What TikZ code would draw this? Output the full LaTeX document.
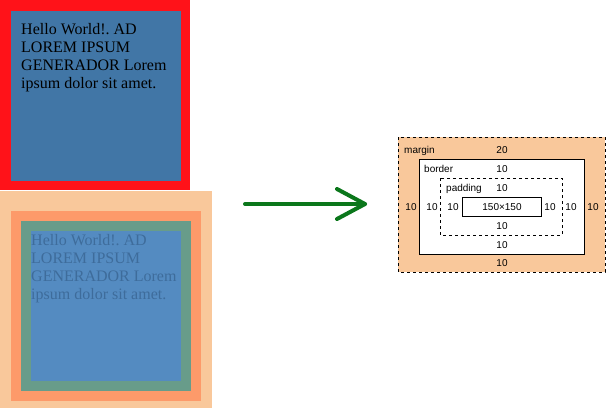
\documentclass[tikz,border=0pt]{standalone}
\usepackage{fontspec}
\usepackage{xcolor}
\setmainfont{Liberation Serif}
\newfontfamily\boxfont{Liberation Sans}
\usetikzlibrary{positioning}
\frenchspacing

\definecolor{boxred}{HTML}{FF1219}
\definecolor{boxblue}{HTML}{4176A6}
\definecolor{peach}{HTML}{F9C89B}
\definecolor{boxorange}{HTML}{FD9A6A}
\definecolor{boxgreen}{HTML}{689C8A}
\definecolor{lightblue}{HTML}{548BC1}
\definecolor{fadetext}{HTML}{3E6C9B}
\definecolor{arrowgreen}{HTML}{0B771B}

\begin{document}
\begin{tikzpicture}[x=1pt, y=-1pt,
    lorem/.style={anchor=north west, align=left, inner sep=0pt,
      font=\fontsize{16}{18}\selectfont},
    lbl/.style={anchor=base, inner sep=0pt, font=\boxfont\fontsize{10}{12}\selectfont},
    lblw/.style={lbl, anchor=base west},
    thinline/.style={draw=black, line width=0.9pt},
    dashbox/.style={thinline, dashed},
    flow/.style={draw=arrowgreen, line width=4pt, line cap=round, line join=round}]
  \useasboundingbox (0,0) rectangle (608,408);

  % top box
  \fill[boxred] (0,0) rectangle (190,190);
  \fill[boxblue] (11,11) rectangle (181,181);
  \node[lorem] (top) at (21,23) {Hello World!. AD\\LOREM IPSUM\\GENERADOR Lorem\\ipsum dolor sit amet.};

  % bottom box, all layers
  \fill[peach] (0,191) rectangle (212,408);
  \fill[boxorange] (11,211) rectangle (201,401);
  \fill[boxgreen] (21,221) rectangle (191,391);
  \fill[lightblue] (31,231) rectangle (181,381);
  \node[lorem, text=fadetext] (bottom) at (31,234) {Hello World!. AD\\LOREM IPSUM\\GENERADOR Lorem\\ipsum dolor sit amet.};

  % arrow
  \coordinate (from) at (245,204);
  \coordinate (to) at (365,204);
  \draw[flow] (from) -- (to);
  \draw[flow] ([xshift=-28,yshift=15]to) -- (to) -- ([xshift=-28,yshift=-15]to);

  % box model
  \filldraw[dashbox, fill=peach] (398,137) rectangle (605,272);
  \filldraw[thinline, fill=white] (419,159) rectangle (584,254);
  \draw[dashbox] (440,178) rectangle (562,235);
  \draw[thinline] (462,197) rectangle (541,216);

  \node[lblw] (margin) at (404,153) {margin};
  \node[lblw] (border) at (424,172) {border};
  \node[lblw] (padding) at (446,191) {padding};
  \node[lbl] (mtop) at (502,153) {20};
  \node[lbl] (btop) at (502,172) {10};
  \node[lbl] (ptop) at (502,191) {10};
  \node[lbl] (content) at (502,210) {150×150};
  \node[lbl] (mleft) at (411,210) {10};
  \node[lbl] (bleft) at (432,210) {10};
  \node[lbl] (pleft) at (453,210) {10};
  \node[lbl] (pright) at (550,210) {10};
  \node[lbl] (bright) at (571,210) {10};
  \node[lbl] (mright) at (593,210) {10};
  \node[lbl] (pbot) at (502,229) {10};
  \node[lbl] (bbot) at (502,248) {10};
  \node[lbl] (mbot) at (502,266) {10};
\end{tikzpicture}
\end{document}
